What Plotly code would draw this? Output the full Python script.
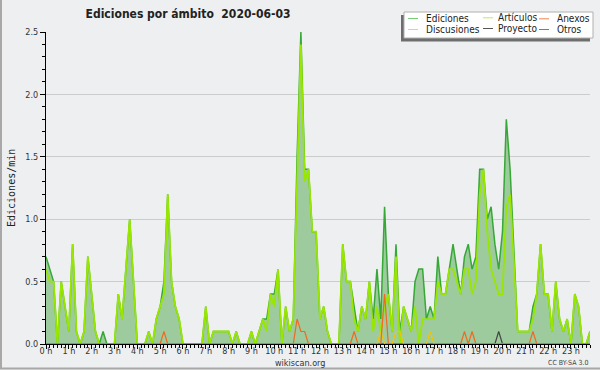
import plotly.graph_objects as go

# ---------------- data (10-minute bins, edits per minute) ----------------
minutos = [i * 10 for i in range(144)]          # 00:00 ... 23:50
horas = list(range(24))
etiquetas_horas = [f"{h} h" for h in horas]

ediciones = [
    0.7, 0.6, 0.5, 0.0, 0.5, 0.3,   0.1, 0.8, 0.1, 0.0, 0.1, 0.7,   # 0h-1h
    0.4, 0.1, 0.0, 0.1, 0.0, 0.0,   0.0, 0.4, 0.2, 0.6, 1.0, 0.5,   # 2h-3h
    0.0, 0.0, 0.0, 0.1, 0.0, 0.2,   0.3, 0.5, 1.2, 0.5, 0.3, 0.2,   # 4h-5h
    0.0, 0.0, 0.0, 0.0, 0.0, 0.0,   0.3, 0.0, 0.1, 0.1, 0.1, 0.1,   # 6h-7h
    0.1, 0.0, 0.1, 0.0, 0.0, 0.0,   0.1, 0.0, 0.1, 0.2, 0.2, 0.4,   # 8h-9h
    0.4, 0.6, 0.0, 0.3, 0.1, 0.2,   1.5, 2.5, 1.4, 1.4, 0.9, 0.9,   # 10h-11h
    0.2, 0.3, 0.1, 0.0, 0.0, 0.0,   0.8, 0.5, 0.5, 0.3, 0.1, 0.3,   # 12h-13h
    0.2, 0.5, 0.2, 0.6, 0.2, 1.1,   0.4, 0.1, 0.8, 0.1, 0.3, 0.2,   # 14h-15h
    0.1, 0.5, 0.6, 0.6, 0.2, 0.3,   0.2, 0.7, 0.4, 0.4, 0.6, 0.8,   # 16h-17h
    0.6, 0.4, 0.7, 0.8, 0.6, 0.7,   1.4, 1.4, 1.0, 1.1, 0.8, 0.6,   # 18h-19h
    0.9, 1.8, 1.4, 0.7, 0.1, 0.1,   0.1, 0.1, 0.3, 0.4, 0.8, 0.4,   # 20h-21h
    0.4, 0.1, 0.5, 0.2, 0.1, 0.2,   0.0, 0.4, 0.3, 0.0, 0.0, 0.1,   # 22h-23h
]

articulos = [
    0.6, 0.5, 0.5, 0.0, 0.5, 0.3,   0.1, 0.8, 0.1, 0.0, 0.1, 0.7,
    0.4, 0.1, 0.0, 0.0, 0.0, 0.0,   0.0, 0.4, 0.2, 0.6, 1.0, 0.5,
    0.0, 0.0, 0.0, 0.1, 0.0, 0.2,   0.3, 0.4, 1.2, 0.5, 0.3, 0.2,
    0.0, 0.0, 0.0, 0.0, 0.0, 0.0,   0.3, 0.0, 0.1, 0.1, 0.1, 0.1,
    0.1, 0.0, 0.1, 0.0, 0.0, 0.0,   0.1, 0.0, 0.1, 0.2, 0.1, 0.4,
    0.3, 0.6, 0.0, 0.3, 0.1, 0.2,   1.3, 2.4, 1.3, 1.4, 0.9, 0.9,
    0.2, 0.3, 0.1, 0.0, 0.0, 0.0,   0.8, 0.5, 0.5, 0.2, 0.1, 0.3,
    0.2, 0.5, 0.1, 0.3, 0.1, 0.3,   0.4, 0.1, 0.7, 0.0, 0.3, 0.2,
    0.1, 0.3, 0.0, 0.2, 0.2, 0.2,   0.2, 0.5, 0.4, 0.4, 0.6, 0.6,
    0.5, 0.4, 0.6, 0.6, 0.4, 0.5,   1.2, 1.4, 0.9, 0.6, 0.5, 0.4,
    0.4, 1.1, 1.2, 0.6, 0.1, 0.1,   0.1, 0.1, 0.2, 0.4, 0.8, 0.4,
    0.4, 0.1, 0.5, 0.2, 0.1, 0.2,   0.0, 0.4, 0.3, 0.0, 0.0, 0.1,
]

anexos = [
    0, 0, 0, 0, 0, 0,   0, 0, 0, 0, 0, 0,
    0, 0, 0, 0, 0, 0,   0, 0, 0, 0, 0, 0,
    0, 0, 0, 0, 0, 0,   0, 0.1, 0, 0, 0, 0,
    0, 0, 0, 0, 0, 0,   0, 0, 0, 0, 0, 0,
    0, 0, 0, 0, 0, 0,   0, 0, 0, 0, 0, 0,
    0, 0, 0, 0, 0, 0,   0.2, 0.1, 0.1, 0, 0, 0,
    0, 0, 0, 0, 0, 0,   0, 0, 0, 0.1, 0, 0,
    0, 0, 0, 0, 0, 0.4, 0, 0, 0, 0, 0, 0,
    0, 0, 0, 0, 0, 0,   0, 0, 0, 0, 0, 0,
    0, 0, 0.1, 0, 0.1, 0,   0, 0, 0, 0, 0, 0,
    0, 0, 0, 0, 0, 0,   0, 0, 0.1, 0, 0, 0,
    0, 0, 0, 0, 0, 0,   0, 0, 0, 0, 0, 0,
]

discusiones = [
    0, 0, 0, 0, 0, 0,   0, 0, 0, 0, 0, 0,
    0, 0, 0, 0, 0, 0,   0, 0, 0, 0, 0, 0,
    0, 0, 0, 0, 0, 0,   0, 0, 0, 0, 0, 0,
    0, 0, 0, 0, 0, 0,   0, 0, 0, 0, 0, 0,
    0, 0, 0, 0, 0, 0,   0, 0, 0, 0, 0, 0,
    0, 0, 0, 0, 0, 0,   0, 0, 0, 0, 0, 0,
    0, 0, 0, 0, 0, 0,   0, 0, 0, 0, 0, 0,
    0, 0, 0, 0, 0.1, 0,   0, 0, 0.1, 0.1, 0, 0,
    0, 0, 0, 0, 0, 0.1,   0, 0, 0, 0, 0, 0,
    0, 0, 0, 0, 0, 0,   0, 0, 0, 0, 0, 0,
    0, 0, 0, 0, 0, 0,   0, 0, 0, 0, 0, 0,
    0, 0, 0, 0, 0, 0,   0, 0, 0, 0, 0, 0,
]

proyecto = [
    0, 0, 0, 0, 0, 0,   0, 0, 0, 0, 0, 0,
    0, 0, 0, 0, 0, 0,   0, 0, 0, 0, 0, 0,
    0, 0, 0, 0, 0, 0,   0, 0, 0, 0, 0, 0,
    0, 0, 0, 0, 0, 0,   0, 0, 0, 0, 0, 0,
    0, 0, 0, 0, 0, 0,   0, 0, 0, 0, 0, 0,
    0, 0, 0, 0, 0, 0,   0, 0, 0, 0, 0, 0,
    0, 0, 0, 0, 0, 0,   0, 0, 0, 0, 0, 0,
    0, 0, 0, 0, 0, 0,   0, 0, 0, 0, 0, 0,
    0, 0, 0, 0, 0, 0,   0, 0, 0, 0, 0, 0,
    0, 0, 0, 0, 0, 0,   0, 0, 0, 0, 0, 0.1,
    0, 0, 0, 0, 0, 0,   0, 0, 0, 0, 0, 0,
    0, 0, 0, 0, 0, 0,   0, 0, 0, 0, 0, 0,
]

otros = [
    0, 0, 0, 0, 0, 0,   0, 0, 0, 0, 0, 0,
    0, 0, 0, 0, 0, 0,   0, 0, 0, 0, 0, 0,
    0, 0, 0, 0, 0, 0,   0, 0, 0, 0, 0, 0,
    0, 0, 0, 0, 0, 0,   0, 0, 0, 0, 0, 0,
    0, 0, 0, 0, 0, 0,   0, 0, 0, 0, 0, 0,
    0, 0, 0, 0, 0, 0,   0, 0, 0, 0, 0, 0,
    0, 0, 0, 0, 0, 0,   0, 0, 0, 0, 0, 0,
    0, 0, 0, 0, 0, 0,   0, 0, 0, 0, 0, 0,
    0, 0, 0, 0, 0, 0,   0, 0, 0, 0, 0, 0,
    0, 0, 0, 0, 0, 0,   0, 0, 0, 0, 0, 0,
    0, 0, 0, 0, 0, 0,   0, 0, 0, 0, 0, 0,
    0, 0, 0, 0, 0, 0,   0, 0, 0, 0, 0, 0,
]

# ---------------- styling ----------------
BG = "#eeeff0"
W, H = 600, 370
ML, MR, MT, MB = 46, 10, 32, 26
PW, PH = W - ML - MR, H - MT - MB

def px(x):
    return (x - ML) / PW

def py(y):
    return (H - MB - y) / PH

x_h = [m / 60 for m in minutos]

series = [
    ("Otros", otros, "#9933ee", 1.2),
    ("Proyecto", proyecto, "#444444", 1.2),
    ("Discusiones", discusiones, "#f5c400", 1.2),
    ("Anexos", anexos, "#ee6a22", 1.2),
]

fig = go.Figure()
fig.add_trace(go.Scatter(
    x=x_h, y=ediciones, mode="lines", name="Ediciones",
    line=dict(color="#36a836", width=1.5), fill="tozeroy", fillcolor="#9ecb9e",
    showlegend=False, hoverinfo="skip"))
fig.add_trace(go.Scatter(
    x=x_h, y=articulos, mode="lines", name="Artículos",
    line=dict(color="#99e600", width=1.8), showlegend=False, hoverinfo="skip"))
for name, vals, col, w in series:
    fig.add_trace(go.Scatter(x=x_h, y=vals, mode="lines", name=name,
                             line=dict(color=col, width=w),
                             showlegend=False, hoverinfo="skip"))

FONT = "DejaVu Sans Condensed, DejaVu Sans, sans-serif"

fig.update_layout(
    width=W, height=H,
    margin=dict(l=ML, r=MR, t=MT, b=MB, pad=0),
    paper_bgcolor=BG, plot_bgcolor=BG,
    font=dict(family=FONT, size=9, color="#333333"),
    title=dict(text="Ediciones por ámbito\u00a0\u00a02020-06-03",
               x=188 / W, xanchor="center", y=1 - 14 / H, yanchor="middle",
               font=dict(family=FONT, size=12, color="#222222", weight="bold")),
    xaxis=dict(range=[0, 143 / 6], showline=True, linecolor="black", linewidth=1,
               ticks="outside", tickvals=horas, ticktext=etiquetas_horas,
               ticklen=4, tickcolor="black", showgrid=False, zeroline=False,
               tickfont=dict(size=9, color="#333333"), ticklabelstandoff=-6,
               minor=dict(dtick=1 / 6, tick0=0, ticks="outside", ticklen=3,
                          tickcolor="black", showgrid=False),
               fixedrange=True),
    yaxis=dict(range=[0, 2.5], dtick=0.5, tickformat=".1f", showline=True,
               linecolor="black", linewidth=1, ticks="outside", ticklen=5,
               tickcolor="black", showgrid=True, gridcolor="#cccccc", gridwidth=1,
               zeroline=False, tickfont=dict(size=9, color="#333333"),
               minor=dict(dtick=0.1, ticks="outside", ticklen=3,
                          tickcolor="black", showgrid=False),
               fixedrange=True),
    showlegend=False,
)

annotations = [
    dict(text="Ediciones/min", x=px(11), y=py(188), xref="paper", yref="paper",
         showarrow=False, textangle=-90, xanchor="center", yanchor="middle",
         font=dict(family="DejaVu Sans Mono, monospace", size=10, color="#222222")),
    dict(text="wikiscan.org", x=px(300), y=py(363), xref="paper", yref="paper",
         showarrow=False, xanchor="center", yanchor="middle",
         font=dict(family=FONT, size=9, color="#333333")),
    dict(text="CC BY-SA 3.0", x=px(590), y=py(363), xref="paper", yref="paper",
         showarrow=False, xanchor="right", yanchor="middle",
         font=dict(family=FONT, size=7, color="#444444")),
]

shapes = [
    # frame lines (left, bottom)
    dict(type="line", xref="paper", yref="paper", x0=px(1), x1=px(1), y0=py(0), y1=py(369),
         line=dict(color="#a8a8a8", width=2)),
    dict(type="line", xref="paper", yref="paper", x0=px(0), x1=px(600), y0=py(368.5), y1=py(368.5),
         line=dict(color="#a8a8a8", width=2)),
    # legend shadow and box
    dict(type="rect", xref="paper", yref="paper", x0=px(401), x1=px(590), y0=py(15), y1=py(41.5),
         fillcolor="#6e6e6e", line=dict(width=0)),
    dict(type="rect", xref="paper", yref="paper", x0=px(404), x1=px(593), y0=py(12), y1=py(38),
         fillcolor="#ffffff", line=dict(color="#b0b0b0", width=1)),
]

legend_items = [
    ("Ediciones", "#77cc77", 408, 424, 18.5),
    ("Discusiones", "#ffcc44", 408, 424, 29.5),
    ("Artículos", "#bbee55", 483, 496, 17.8),
    ("Proyecto", "#555555", 483, 496, 28.5),
    ("Anexos", "#ee8855", 539, 555, 18.8),
    ("Otros", "#9955ee", 539, 555, 29.5),
]
for name, col, lx, tx, yy in legend_items:
    shapes.append(dict(type="line", xref="paper", yref="paper",
                       x0=px(lx), x1=px(lx + 10), y0=py(yy), y1=py(yy),
                       line=dict(color=col, width=1)))
    annotations.append(dict(text=name, x=px(tx), y=py(yy), xref="paper", yref="paper",
                            showarrow=False, xanchor="left", yanchor="middle",
                            font=dict(family=FONT, size=10, color="#222222")))

fig.update_layout(annotations=annotations, shapes=shapes)

fig.write_html("out.html", config={"displayModeBar": False},
               post_script="document.body.style.margin='0px';document.body.style.padding='0px';")
